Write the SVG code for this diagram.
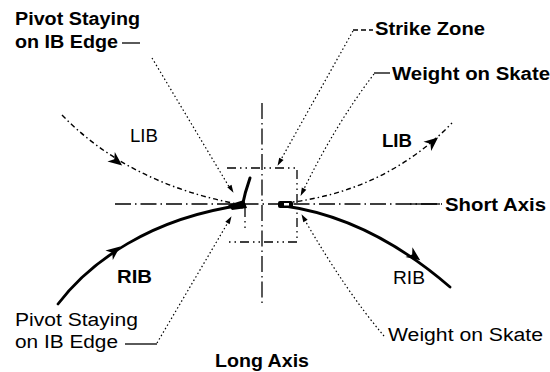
<svg xmlns="http://www.w3.org/2000/svg" width="550" height="372" viewBox="0 0 550 372">
<style>
text{font-family:"Liberation Sans",Arial,sans-serif;font-size:18px;fill:#000}
.b{font-weight:bold}
.axis{fill:none;stroke:#000;stroke-width:1.3;stroke-dasharray:16 4 1.5 4}
.zone{fill:none;stroke:#000;stroke-width:1.3;stroke-dasharray:9 4 1.5 4 1.5 4}
.lib{fill:none;stroke:#000;stroke-width:1.4;stroke-dasharray:5 3 1.5 3}
.rib{fill:none;stroke:#000;stroke-width:2.8;stroke-linecap:round}
.lead{fill:none;stroke:#000;stroke-width:1.2;stroke-dasharray:1.5 2.5}
.tick{stroke:#000;stroke-width:1.3}
</style>
<defs>
<path id="ah" d="M4,0 L-10,-6 L-6,0 L-10,6 Z" fill="#000"/>
<path id="sh" d="M1,0 L-7,-2.5 L-7,2.5 Z" fill="#000"/>
</defs>
<rect width="550" height="372" fill="#fff"/>

<g id="axes">
<line class="axis" x1="262" y1="103" x2="262" y2="304"/>
<line class="axis" x1="115" y1="204" x2="442" y2="204"/>
</g>

<g id="strike-zone">
<path class="zone" d="M227,168 H297 V242 H229"/>
<line class="zone" x1="245" y1="208" x2="245" y2="228"/>
</g>

<g id="connectors">
<!-- LIB incoming (left) -->
<path class="lib" d="M62,115 Q130,185 243,205"/>
<use href="#ah" transform="translate(119,163) rotate(38)"/>
<!-- RIB incoming (left) -->
<path class="rib" d="M58,304 C90,262 150,218 243,205"/>
<use href="#ah" transform="translate(117,249) rotate(-38)"/>
<!-- LIB outgoing (right) -->
<path class="lib" d="M285,203 Q385,192 452,123"/>
<use href="#ah" transform="translate(435,140) rotate(-40)"/>
<!-- RIB outgoing (right) -->
<path class="rib" d="M285,206 Q370,218 450,287"/>
<use href="#ah" transform="translate(417,258) rotate(36)"/>

<!-- leaders -->
<line class="tick" x1="122" y1="43" x2="140" y2="43"/>
<path class="lead" d="M152,58 L231,190"/>
<use href="#sh" transform="translate(233,192) rotate(59)"/>

<line class="tick" x1="353" y1="30" x2="373" y2="30" stroke-dasharray="5 3"/>
<path class="lead" d="M353,31 L279,163"/>
<use href="#sh" transform="translate(278,165) rotate(119)"/>

<line class="tick" x1="374" y1="73" x2="390" y2="73"/>
<path class="lead" d="M374,74 Q335,125 302,193"/>
<use href="#sh" transform="translate(301,195) rotate(116)"/>

<line class="tick" x1="125" y1="344" x2="157" y2="344"/>
<path class="lead" d="M157,343 L230,219"/>
<use href="#sh" transform="translate(231,217) rotate(-60)"/>

<path class="lead" d="M384,336 Q345,290 303,217"/>
<use href="#sh" transform="translate(302,215) rotate(-120)"/>

<line class="tick" x1="410" y1="204" x2="440" y2="204" stroke-width="1.5"/>
</g>

<g id="pivot-left">
<path d="M250,178 Q245,192 242,207" fill="none" stroke="#000" stroke-width="3" stroke-linecap="round"/>
<path d="M228,205 L244,200 L247,208 L232,210 Z" fill="#000"/>
</g>

<g id="pivot-right">
<rect x="278" y="201" width="15" height="7" rx="2" fill="#000"/>
<rect x="284" y="203" width="5" height="2.5" fill="#fff"/>
</g>

<g id="labels">
<text class="b" x="15" y="25" textLength="125" lengthAdjust="spacingAndGlyphs">Pivot Staying</text>
<text class="b" x="15" y="48" textLength="103" lengthAdjust="spacingAndGlyphs">on IB Edge</text>
<text class="b" x="375" y="35" textLength="110" lengthAdjust="spacingAndGlyphs">Strike Zone</text>
<text class="b" x="392" y="80" textLength="158" lengthAdjust="spacingAndGlyphs">Weight on Skate</text>
<text x="130" y="142" textLength="28" lengthAdjust="spacingAndGlyphs">LIB</text>
<text class="b" x="382" y="147" textLength="30" lengthAdjust="spacingAndGlyphs">LIB</text>
<text class="b" x="445" y="211" textLength="101" lengthAdjust="spacingAndGlyphs">Short Axis</text>
<text class="b" x="117" y="283" textLength="35" lengthAdjust="spacingAndGlyphs">RIB</text>
<text x="393" y="284" textLength="32" lengthAdjust="spacingAndGlyphs">RIB</text>
<text x="15" y="326" textLength="123" lengthAdjust="spacingAndGlyphs">Pivot Staying</text>
<text x="15" y="348" textLength="103" lengthAdjust="spacingAndGlyphs">on IB Edge</text>
<text x="388" y="341" textLength="155" lengthAdjust="spacingAndGlyphs">Weight on Skate</text>
<text class="b" x="215" y="367" textLength="94" lengthAdjust="spacingAndGlyphs">Long Axis</text>
</g>
</svg>
